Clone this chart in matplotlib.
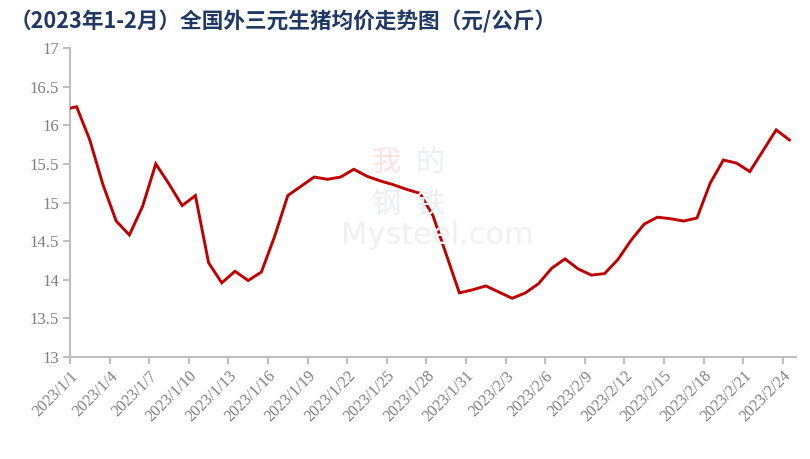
import numpy as np
import pandas as pd
import matplotlib
matplotlib.use('Agg')
import matplotlib.pyplot as plt

plt.rcParams['font.family'] = ['Noto Sans CJK SC', 'DejaVu Sans']

# 日期 2023/1/1 - 2023/2/24
dates = pd.date_range('2023-01-01', '2023-02-24', freq='D')
date_labels = [f'{d.year}/{d.month}/{d.day}' for d in dates]

# 12/31 的价格(图中曲线从坐标轴起)
prev_price = 16.20
prices = [16.24, 15.81, 15.23, 14.76, 14.58, 14.95, 15.50, 15.24, 14.96, 15.09,
          14.22, 13.96, 14.11, 13.99, 14.10, 14.56, 15.09, 15.21, 15.33, 15.30,
          15.33, 15.43, 15.34, 15.28, 15.23, 15.17, 15.12, 14.83, 14.33, 13.83,
          13.87, 13.92, 13.84, 13.76, 13.83, 13.95, 14.15, 14.27, 14.14, 14.06,
          14.08, 14.26, 14.51, 14.72, 14.81, 14.79, 14.76, 14.80, 15.25, 15.55,
          15.51, 15.40, 15.67, 15.94, 15.81]

title = '（2023年1-2月）全国外三元生猪均价走势图（元/公斤）'
yticks = np.arange(13, 17.01, 0.5)

fig = plt.figure(figsize=(8.1, 4.59), dpi=100)
ax = fig.add_axes([0.0864, 0.2222, 0.8963, 0.6732])

x = np.arange(-1, len(prices))
y = [prev_price] + prices
ax.plot(x, y, color='#C00000', linewidth=2.1, solid_joinstyle='miter', zorder=3)

ax.set_xlim(-0.5, len(prices) - 0.5)
ax.set_ylim(13, 17)

gray = '#BFBFBF'
lab = '#7F7F7F'
serif = ['Liberation Serif', 'DejaVu Serif']

ax.set_yticks(yticks)
ax.set_yticklabels([f'{v:g}' for v in yticks], fontsize=12, color=lab, family=serif)

idx = list(range(0, len(prices), 3))
ax.set_xticks([i - 0.5 for i in idx])
ax.set_xticklabels([date_labels[i] for i in idx], rotation=45, ha='right',
                   rotation_mode='anchor', fontsize=11.5, color=lab, family=serif)

for s in ['top', 'right']:
    ax.spines[s].set_visible(False)
for s in ['left', 'bottom']:
    ax.spines[s].set_color(gray)
    ax.spines[s].set_linewidth(1.5)
ax.tick_params(axis='both', direction='out', length=5, width=1.5, color=gray, pad=3)

# 水印
wm_font = ['Noto Sans CJK SC', 'DejaVu Sans']
fig.text(386 / 810, 1 - 163 / 459, '我', fontsize=21, color='#FBE3E3', ha='center', va='center', family=wm_font, zorder=0)
fig.text(430 / 810, 1 - 163 / 459, '的', fontsize=21, color='#ECEEF5', ha='center', va='center', family=wm_font, zorder=0)
fig.text(386 / 810, 1 - 205 / 459, '钢', fontsize=21, color='#ECEEF5', ha='center', va='center', family=wm_font, zorder=0)
fig.text(430 / 810, 1 - 205 / 459, '铁', fontsize=21, color='#ECEEF5', ha='center', va='center', family=wm_font, zorder=0)
fig.text(437 / 810, 1 - 236 / 459, 'Mysteel.com', fontsize=22, color='#F0F0F0', ha='center', va='center',
         family=['DejaVu Sans'], zorder=0)

fig.text(0.012, 0.952, title, fontsize=15.6, fontweight='bold', color='#1F3864',
         ha='left', va='center')

fig.savefig('out.png', dpi=100)
